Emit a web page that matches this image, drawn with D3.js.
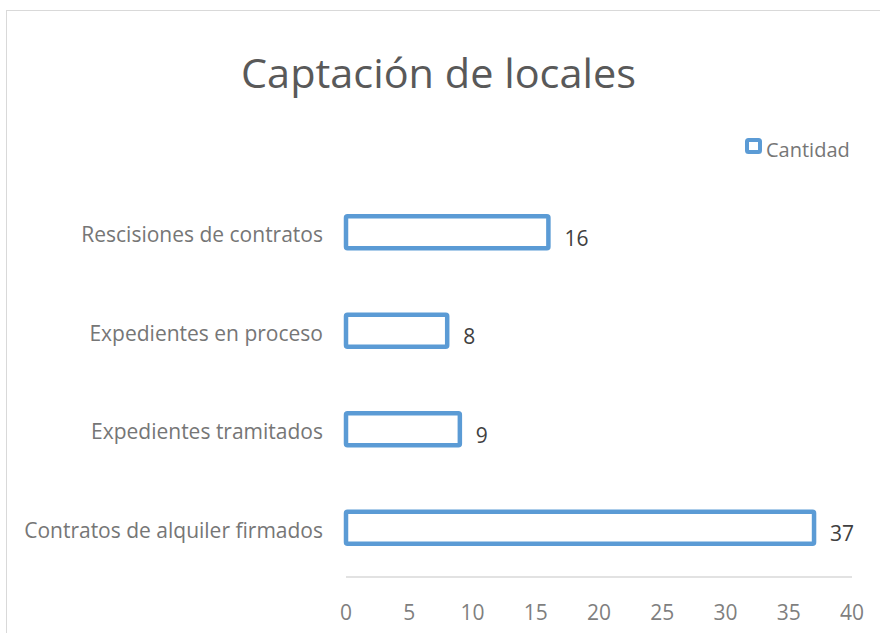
<!DOCTYPE html>
<html>
<head>
<meta charset="utf-8">
<script src="https://cdn.jsdelivr.net/npm/d3@7"></script>
<style>
  html, body { margin: 0; padding: 0; background: #fff; }
  svg { display: block; font-family: "Open Sans", "Liberation Sans", sans-serif; }
</style>
</head>
<body>
<svg id="chart" width="880" height="633"></svg>
<script>
// data
const CATEGORIES = [
  "Rescisiones de contratos",
  "Expedientes en proceso",
  "Expedientes tramitados",
  "Contratos de alquiler firmados"
];
const VALUES = [16, 8, 9, 37];
const X_TICKS = [0, 5, 10, 15, 20, 25, 30, 35, 40];
const SERIES_NAME = "Cantidad";
const TITLE = "Captación de locales";

const BLUE = "#5b9bd5";

const svg = d3.select("#chart");

// outer frame of the chart area
svg.append("rect")
  .attr("x", 6.5).attr("y", 10.5)
  .attr("width", 900).attr("height", 700)
  .attr("fill", "#fff")
  .attr("stroke", "#d9d9d9")
  .attr("stroke-width", 1);

const plot = { left: 346, right: 852, top: 183, bottom: 577 };

const x = d3.scaleLinear()
  .domain([0, 40])
  .range([plot.left, plot.right]);

const y = d3.scaleBand()
  .domain(CATEGORIES)
  .range([plot.top, plot.bottom])
  .paddingInner(0.675)
  .paddingOuter(0.3375);

// title
svg.append("text")
  .attr("x", 241).attr("y", 88)
  .attr("font-size", 41)
  .attr("fill", "#595959")
  .attr("textLength", 395)
  .attr("lengthAdjust", "spacingAndGlyphs")
  .text(TITLE);

// axis line
svg.append("line")
  .attr("x1", x(0)).attr("x2", x(40))
  .attr("y1", plot.bottom).attr("y2", plot.bottom)
  .attr("stroke", "#d9d9d9")
  .attr("stroke-width", 1.5);

// x tick labels
svg.append("g")
  .selectAll("text")
  .data(X_TICKS)
  .join("text")
  .attr("x", d => x(d))
  .attr("y", 620)
  .attr("text-anchor", "middle")
  .attr("font-size", 21)
  .attr("fill", "#7f7f7f")
  .text(d => d);

// category labels
svg.append("g")
  .selectAll("text")
  .data(CATEGORIES)
  .join("text")
  .attr("x", 323)
  .attr("y", d => y(d) + y.bandwidth() / 2 + 10)
  .attr("text-anchor", "end")
  .attr("font-size", 21)
  .attr("fill", "#767676")
  .text(d => d);

// bars (outlined)
const rows = CATEGORIES.map((c, i) => ({ cat: c, value: VALUES[i] }));

svg.append("g")
  .selectAll("rect")
  .data(rows)
  .join("rect")
  .attr("x", x(0))
  .attr("y", d => y(d.cat))
  .attr("width", d => x(d.value) - x(0))
  .attr("height", y.bandwidth())
  .attr("rx", 1.5)
  .attr("fill", "#fff")
  .attr("stroke", BLUE)
  .attr("stroke-width", 4.5);

// value labels
svg.append("g")
  .selectAll("text")
  .data(rows)
  .join("text")
  .attr("x", d => x(d.value) + 16)
  .attr("y", d => y(d.cat) + y.bandwidth() / 2 + 13.5)
  .attr("font-size", 21)
  .attr("fill", "#404040")
  .text(d => d.value);

// legend
const legend = svg.append("g").attr("transform", "translate(747,140)");
legend.append("rect")
  .attr("x", 0).attr("y", 0)
  .attr("width", 13).attr("height", 12)
  .attr("rx", 1.5)
  .attr("fill", "#fff")
  .attr("stroke", BLUE)
  .attr("stroke-width", 4);
legend.append("text")
  .attr("x", 19).attr("y", 17)
  .attr("font-size", 20)
  .attr("fill", "#767676")
  .text(SERIES_NAME);
</script>
</body>
</html>
